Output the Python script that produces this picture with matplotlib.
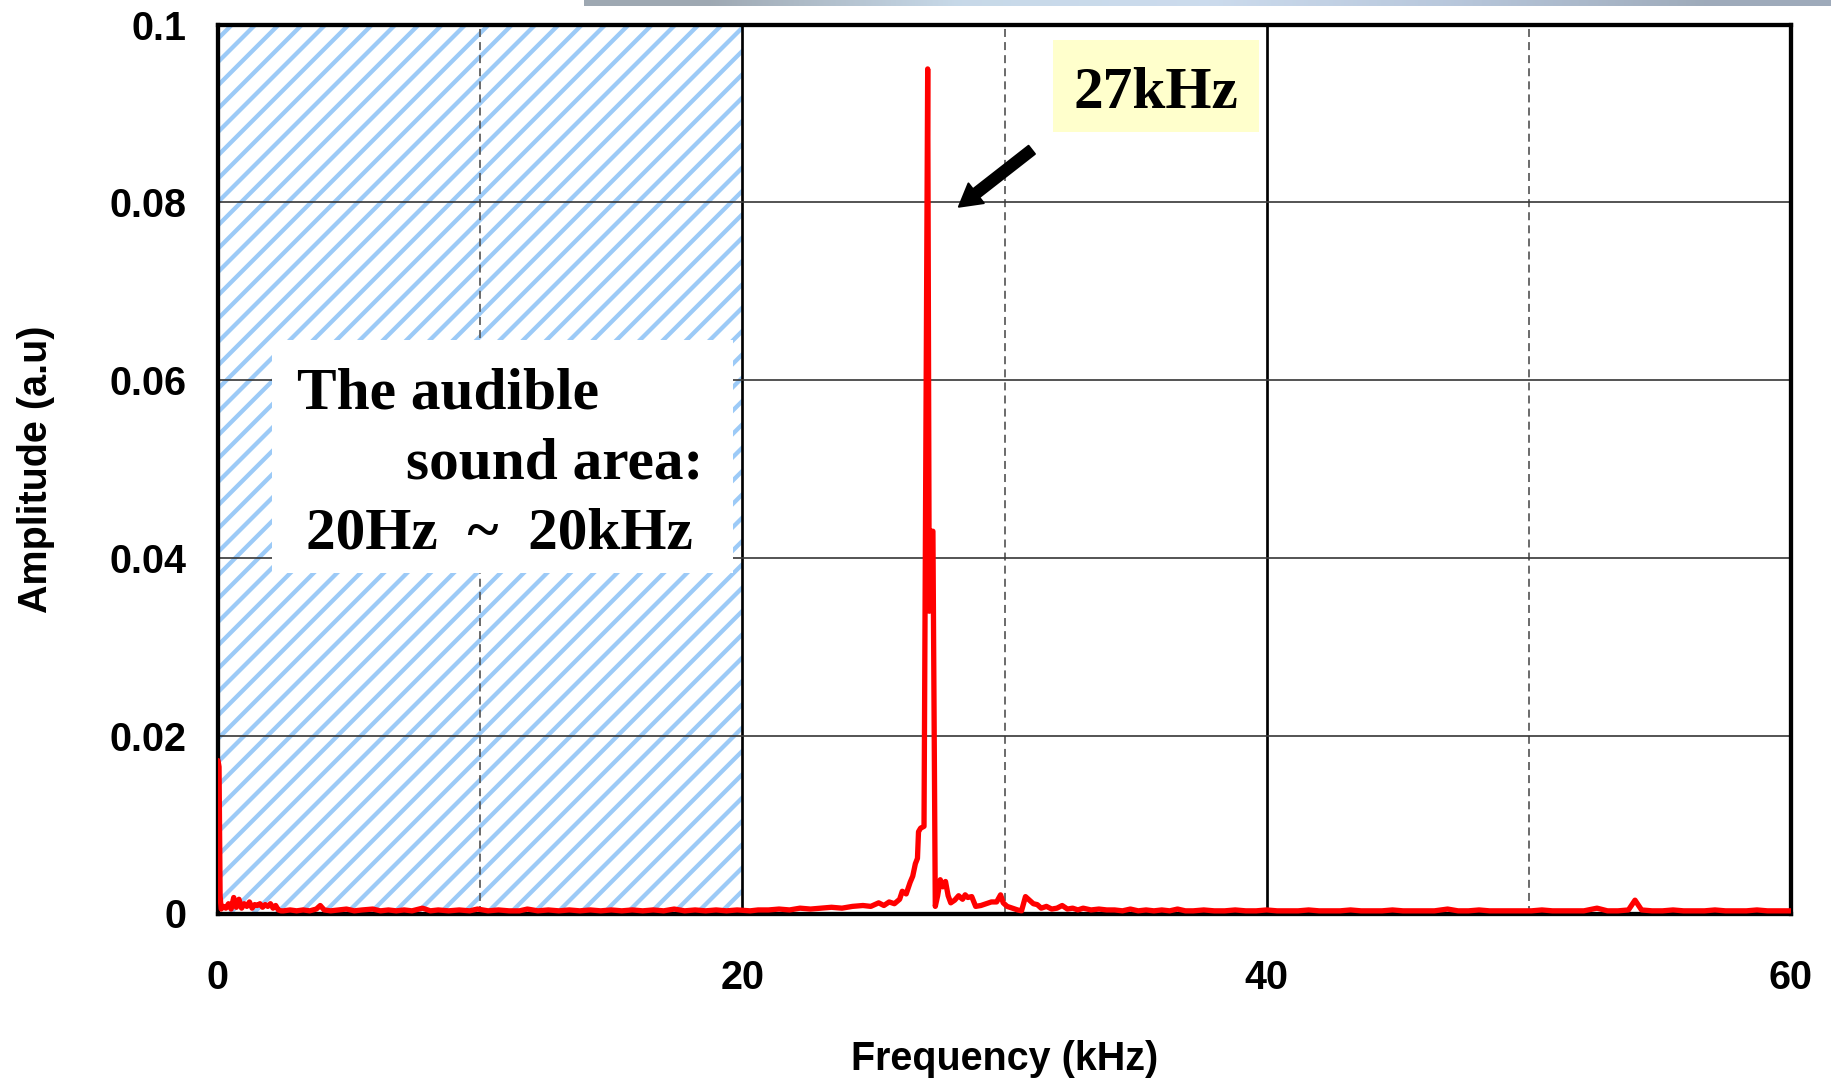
import numpy as np
import matplotlib
matplotlib.use("Agg")
import matplotlib.pyplot as plt
from matplotlib.patches import Rectangle

# ---------------- data ----------------
# low-frequency part (0 - 2.5 kHz)
freq_low = [0.0, 0.04, 0.08, 0.12, 0.2, 0.3, 0.4, 0.5, 0.6, 0.7,
            0.8, 0.9, 1.0, 1.1, 1.2, 1.3, 1.4, 1.5, 1.6, 1.7,
            1.8, 1.9, 2.0, 2.1, 2.2, 2.3, 2.4, 2.5]
amp_low = [0.0172, 0.0165, 0.0020, 0.0005, 0.0008, 0.0006, 0.0011, 0.0005, 0.0018, 0.0007,
           0.0016, 0.0006, 0.0011, 0.0008, 0.0013, 0.0006, 0.0010, 0.0009, 0.0011, 0.0007,
           0.0010, 0.0008, 0.0011, 0.0006, 0.0009, 0.0004, 0.0003, 0.0003]

# audible floor (2.5 - 20 kHz)
freq_aud = [2.75, 3.0, 3.25, 3.5, 3.75, 3.9, 4.05, 4.3, 4.6, 4.9,
            5.2, 5.5, 5.9, 6.2, 6.5, 6.8, 7.1, 7.4, 7.8, 8.1,
            8.4, 8.8, 9.2, 9.6, 9.9, 10.3, 10.7, 11.1, 11.5, 11.8,
            12.2, 12.6, 13.0, 13.4, 13.8, 14.2, 14.6, 15.0, 15.4, 15.8,
            16.2, 16.6, 17.0, 17.4, 17.8, 18.2, 18.6, 19.0, 19.4, 19.8]
amp_aud = [0.0004, 0.0003, 0.0004, 0.0003, 0.0005, 0.0009, 0.0004, 0.0003, 0.0004, 0.0005,
           0.0003, 0.0004, 0.0005, 0.0003, 0.0004, 0.0003, 0.0004, 0.0003, 0.0006, 0.0003,
           0.0004, 0.0003, 0.0004, 0.0003, 0.0005, 0.0003, 0.0004, 0.0003, 0.0003, 0.0005,
           0.0003, 0.0004, 0.0003, 0.0004, 0.0003, 0.0004, 0.0003, 0.0004, 0.0003, 0.0004,
           0.0003, 0.0004, 0.0003, 0.0005, 0.0003, 0.0004, 0.0003, 0.0004, 0.0003, 0.0004]

# rise towards the resonance (20 - 26.8 kHz)
freq_rise = [20.3, 20.6, 21.0, 21.4, 21.8, 22.2, 22.6, 23.0, 23.4, 23.8,
             24.2, 24.6, 24.9, 25.2, 25.4, 25.6, 25.8, 26.0, 26.1, 26.25,
             26.4, 26.5, 26.6, 26.68, 26.72, 26.8]
amp_rise = [0.0003, 0.0004, 0.0004, 0.0005, 0.0004, 0.0006, 0.0005, 0.0006, 0.0007, 0.0006,
            0.0008, 0.0009, 0.0008, 0.0012, 0.0009, 0.0013, 0.0011, 0.0016, 0.0025, 0.0022,
            0.0035, 0.0042, 0.0056, 0.0062, 0.0092, 0.0096]

# resonance peak (27 kHz)
freq_peak = [26.93, 27.07, 27.13, 27.22, 27.27, 27.36]
amp_peak = [0.0098, 0.0950, 0.0340, 0.0430, 0.0430, 0.0008]

# tail after the peak (27.4 - 37.2 kHz)
freq_tail = [27.45, 27.55, 27.65, 27.75, 27.85, 27.95, 28.1, 28.25, 28.4, 28.5,
             28.6, 28.75, 28.9, 29.1, 29.3, 29.5, 29.7, 29.85, 29.95, 30.1,
             30.3, 30.5, 30.65, 30.8, 30.95, 31.1, 31.25, 31.4, 31.6, 31.8,
             32.0, 32.2, 32.4, 32.6, 32.8, 33.0, 33.3, 33.6, 33.9, 34.2,
             34.5, 34.8, 35.1, 35.4, 35.7, 36.0, 36.3, 36.6, 36.9, 37.2]
amp_tail = [0.0020, 0.0038, 0.0030, 0.0036, 0.0020, 0.0012, 0.0015, 0.0020, 0.0016, 0.0021,
            0.0018, 0.0019, 0.0008, 0.0009, 0.0011, 0.0013, 0.0013, 0.0021, 0.0012, 0.0008,
            0.0006, 0.0004, 0.0003, 0.0019, 0.0015, 0.0011, 0.0010, 0.0006, 0.0008, 0.0005,
            0.0006, 0.0009, 0.0005, 0.0006, 0.0004, 0.0006, 0.0004, 0.0005, 0.0004, 0.0004,
            0.0003, 0.0005, 0.0003, 0.0004, 0.0003, 0.0004, 0.0003, 0.0005, 0.0003, 0.0003]

# high-frequency floor (37.6 - 60 kHz)
freq_high = [37.6, 38.0, 38.4, 38.8, 39.2, 39.6, 40.0, 40.4, 40.8, 41.2,
             41.6, 42.0, 42.4, 42.8, 43.2, 43.6, 44.0, 44.4, 44.8, 45.2,
             45.6, 46.0, 46.4, 46.9, 47.3, 47.7, 48.1, 48.5, 48.9, 49.3,
             49.7, 50.1, 50.5, 50.9, 51.3, 51.7, 52.1, 52.6, 53.0, 53.4,
             53.8, 54.05, 54.3, 54.7, 55.1, 55.5, 55.9, 56.3, 56.7, 57.1,
             57.5, 57.9, 58.3, 58.7, 59.1, 59.5, 60.0]
amp_high = [0.0004, 0.0003, 0.0003, 0.0004, 0.0003, 0.0003, 0.0004, 0.0003, 0.0003, 0.0003,
            0.0004, 0.0003, 0.0003, 0.0003, 0.0004, 0.0003, 0.0003, 0.0003, 0.0004, 0.0003,
            0.0003, 0.0003, 0.0003, 0.0005, 0.0003, 0.0003, 0.0004, 0.0003, 0.0003, 0.0003,
            0.0003, 0.0003, 0.0004, 0.0003, 0.0003, 0.0003, 0.0003, 0.0006, 0.0003, 0.0003,
            0.0004, 0.0015, 0.0004, 0.0003, 0.0003, 0.0004, 0.0003, 0.0003, 0.0003, 0.0004,
            0.0003, 0.0003, 0.0003, 0.0004, 0.0003, 0.0003, 0.0003]

freq_khz = freq_low + freq_aud + freq_rise + freq_peak + freq_tail + freq_high
amplitude = amp_low + amp_aud + amp_rise + amp_peak + amp_tail + amp_high

x_major_ticks = [0, 20, 40, 60]
x_major_labels = ["0", "20", "40", "60"]
x_minor_ticks = [10, 30, 50]
y_ticks = [0, 0.02, 0.04, 0.06, 0.08, 0.1]
y_labels = ["0", "0.02", "0.04", "0.06", "0.08", "0.1"]

audible_band = (0, 20)
peak_label = "27kHz"
audible_lines = ["The audible", "sound area:", "20Hz  ~  20kHz"]

# ---------------- figure ----------------
DPI = 140
S = 150 / DPI  # keeps point sizes tuned at 150 dpi


def px(p):
    """pixels -> points"""
    return p * 72 / DPI


HATCH_BLUE = "#9ccaf7"
plt.rcParams["hatch.linewidth"] = px(4.3)
plt.rcParams["hatch.color"] = HATCH_BLUE
fig = plt.figure(figsize=(1831 / DPI, 1080 / DPI), dpi=DPI)
ax = fig.add_axes([218 / 1831, 1 - 913.5 / 1080, (1791 - 218) / 1831, (913.5 - 24.5) / 1080])

sans = ["Liberation Sans", "DejaVu Sans"]
serif = ["Liberation Serif", "DejaVu Serif"]
TICK_FS = 19 * S
BIG_FS = 28.5 * S

# hatched audible region
ax.axvspan(audible_band[0], audible_band[1], facecolor="white", edgecolor=HATCH_BLUE,
           hatch="//", linewidth=0, zorder=1)

ax.set_xlim(0, 60)
ax.set_ylim(0, 0.1)
ax.set_xticks(x_major_ticks)
ax.set_xticklabels(x_major_labels)
ax.set_xticks(x_minor_ticks, minor=True)
ax.set_yticks(y_ticks)
ax.set_yticklabels(y_labels)

ax.grid(which="major", axis="y", color="#3a3a3a", linewidth=px(1.7))
ax.grid(which="major", axis="x", color="black", linewidth=px(2.7))
ax.grid(which="minor", axis="x", color="#555555", linewidth=px(1.7), linestyle=(0, (4.7, 3.0)))

ax.tick_params(which="both", length=0)
ax.tick_params(axis="x", pad=22 * S)
ax.tick_params(axis="y", pad=15 * S)
for lab in ax.get_xticklabels() + ax.get_yticklabels():
    lab.set_fontfamily(sans)
    lab.set_fontweight("bold")
    lab.set_fontsize(TICK_FS)

for sp in ax.spines.values():
    sp.set_linewidth(px(4.3))
    sp.set_color("black")
    sp.set_zorder(4)

ax.set_xlabel("Frequency (kHz)", fontsize=TICK_FS, fontweight="bold", family=sans,
              labelpad=20.7 * S)
ax.set_ylabel("Amplitude (a.u)", fontsize=TICK_FS, fontweight="bold", family=sans,
              labelpad=26.5 * S)

# white box for the audible text
ax.add_patch(Rectangle((2.06, 0.0383), 19.64 - 2.06, 0.0645 - 0.0383,
                       facecolor="white", edgecolor="none", zorder=2))
ax.text(3.0, 0.05686, audible_lines[0], family=serif, fontweight="bold", fontsize=BIG_FS,
        ha="left", va="baseline", zorder=3)
ax.text(18.51, 0.04895, audible_lines[1], family=serif, fontweight="bold", fontsize=BIG_FS,
        ha="right", va="baseline", zorder=3)
ax.text(10.72, 0.04108, audible_lines[2], family=serif, fontweight="bold", fontsize=BIG_FS,
        ha="center", va="baseline", zorder=3)

# peak label box
ax.add_patch(Rectangle((31.85, 0.08792), 39.71 - 31.85, 0.09826 - 0.08792,
                       facecolor="#ffffcc", edgecolor="none", zorder=2))
ax.text(35.78, 0.0906, peak_label, family=serif, fontweight="bold", fontsize=BIG_FS,
        ha="center", va="baseline", zorder=3)

# arrow
ax.annotate("", xy=(28.26, 0.0795), xytext=(31.04, 0.0859),
            arrowprops=dict(arrowstyle="simple,head_length=1.05,head_width=1.2,tail_width=0.5",
                            color="black", shrinkA=0, shrinkB=0, mutation_scale=10 * S),
            zorder=5)

# spectrum
ax.plot(freq_khz, amplitude, color="#ff0000", linewidth=px(5.3), zorder=6,
        solid_joinstyle="round", solid_capstyle="round")

# decorative gradient strip at the top
gax = fig.add_axes([584 / 1831, 1 - 6 / 1080, 1 - 584 / 1831, 6 / 1080])
grad_cols = np.array([[0.62, 0.66, 0.70], [0.78, 0.85, 0.91], [0.80, 0.86, 0.93],
                      [0.72, 0.78, 0.86], [0.62, 0.67, 0.73]])
gax.imshow(grad_cols[np.newaxis, :, :], aspect="auto", interpolation="bilinear")
gax.axis("off")

fig.savefig("out.png", dpi=DPI)
